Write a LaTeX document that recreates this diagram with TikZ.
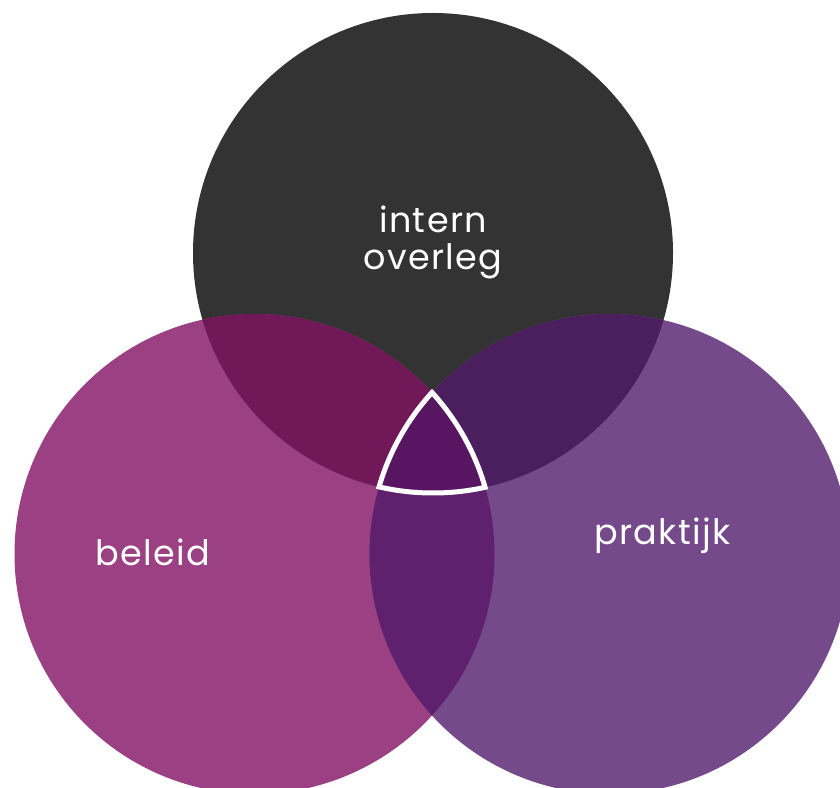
\documentclass[tikz,border=0pt]{standalone}
\usepackage{fontspec}
\setmainfont[LetterSpace=4]{Poppins}
\definecolor{intern}{HTML}{333333}
\definecolor{beleid}{HTML}{9A4083}
\definecolor{praktijk}{HTML}{744A8A}
\definecolor{internbeleid}{HTML}{701858}
\definecolor{internpraktijk}{HTML}{4B1E5E}
\definecolor{beleidpraktijk}{HTML}{5F206E}
\definecolor{alledrie}{HTML}{581662}
\begin{document}
\begin{tikzpicture}[x=1pt,y=1pt,
	every node/.style={text=white,font=\fontsize{35}{37}\selectfont,align=center}]
\useasboundingbox (0,0) rectangle (840,787);
\coordinate (T) at (433,534);
\coordinate (L) at (254.5,233);
\coordinate (R) at (609.5,233);
\fill[intern] (T) circle[radius=240pt];
\fill[beleid] (L) circle[radius=240pt];
\fill[praktijk] (R) circle[radius=240pt];
% overlaps
\begin{scope}
	\clip (T) circle[radius=240pt];
	\fill[internbeleid] (L) circle[radius=240pt];
	\fill[internpraktijk] (R) circle[radius=240pt];
\end{scope}
\begin{scope}
	\clip (L) circle[radius=240pt];
	\fill[beleidpraktijk] (R) circle[radius=240pt];
\end{scope}
% centre with white outline
\begin{scope}
	\clip (L) circle[radius=242.5pt];
	\clip (T) circle[radius=242.5pt];
	\clip (R) circle[radius=242.5pt];
	\fill[alledrie] (T) circle[radius=242.5pt];
	\draw[white,line width=10pt] (T) circle[radius=242.5pt]
		(L) circle[radius=242.5pt] (R) circle[radius=242.5pt];
\end{scope}
\node (overleg) at (433,545) {intern\\overleg};
\node[anchor=base] (beleidtekst) at (152.5,221) {beleid};
\node[anchor=base] (praktijktekst) at (662.5,242) {praktijk};
\end{tikzpicture}
\end{document}
